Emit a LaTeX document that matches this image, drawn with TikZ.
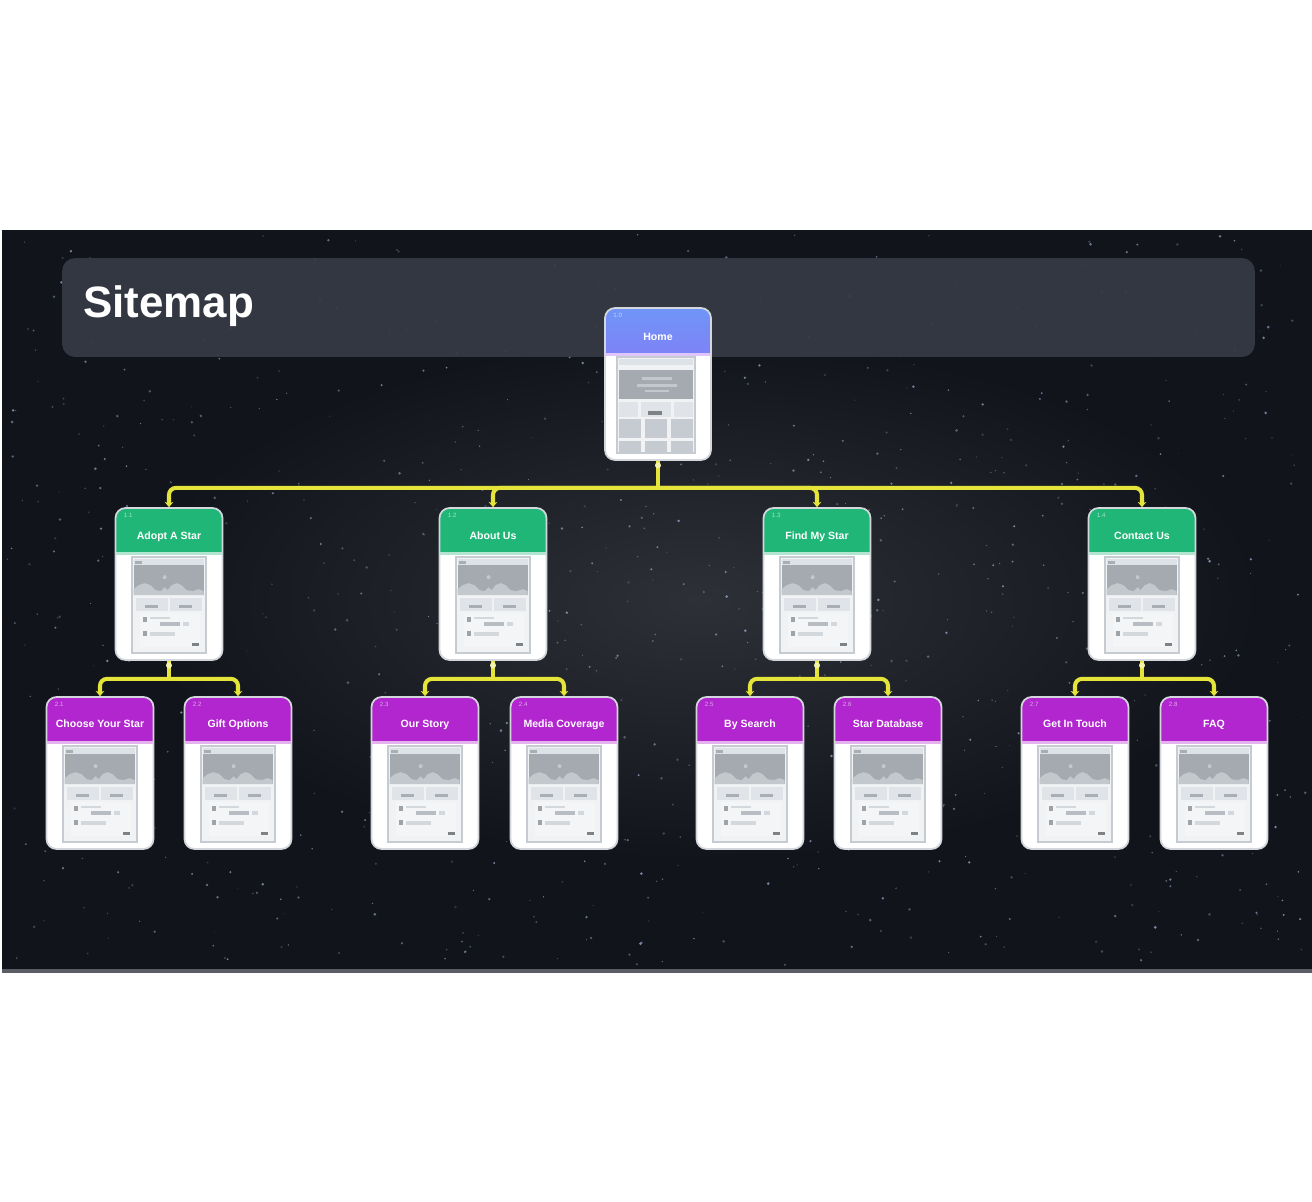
\documentclass[tikz,border=0pt]{standalone}
\usepackage{fontspec}
\setmainfont{Liberation Sans}
\usetikzlibrary{arrows.meta}
\definecolor{spacebg}{HTML}{11141B}
\definecolor{stardot}{HTML}{9AA6C8}
\definecolor{panelline}{HTML}{5A5D63}
\definecolor{barbg}{HTML}{363A45}
\definecolor{greenhd}{HTML}{20B678}
\definecolor{purplehd}{HTML}{B126CF}
\definecolor{hometop}{HTML}{6F95F8}
\definecolor{homemid}{HTML}{8A78F4}
\definecolor{homebot}{HTML}{A158F0}
\definecolor{linkyellow}{HTML}{E4E43A}
\definecolor{knobyellow}{HTML}{F4F3AA}
\definecolor{cardedge}{HTML}{D3D7DC}
\definecolor{thumbbg}{HTML}{F0F2F4}
\definecolor{thumbedge}{HTML}{C5CBD1}
\definecolor{strip}{HTML}{DDE2E6}
\definecolor{imgc}{HTML}{A4AAAF}
\definecolor{mount}{HTML}{C3C8CC}
\definecolor{btn}{HTML}{E0E4E8}
\definecolor{btnbar}{HTML}{A8AEB4}
\definecolor{listbg}{HTML}{F3F5F7}
\definecolor{icon}{HTML}{9CA3A9}
\definecolor{rowbar}{HTML}{D3D8DD}
\definecolor{rowbar2}{HTML}{B7BDC3}
\tikzset{
  card/.style={draw=cardedge, line width=1pt, fill=white, rounded corners=0.2cm,
    minimum width=2.14cm, minimum height=3.04cm, inner sep=0pt,
    path picture={
      \fill[#1, sharp corners] (path picture bounding box.north west) rectangle ([yshift=-0.88cm]path picture bounding box.north east);
      \fill[#1!35!white, sharp corners] ([yshift=-0.88cm]path picture bounding box.north west) rectangle ([yshift=-0.93cm]path picture bounding box.north east);}},
  homecard/.style={draw=cardedge, line width=1pt, fill=white, rounded corners=0.2cm,
    minimum width=2.12cm, minimum height=3.04cm, inner sep=0pt,
    path picture={
      \shade[top color=hometop, middle color=homemid, bottom color=homebot, sharp corners] (path picture bounding box.north west) rectangle ([yshift=-0.9cm]path picture bounding box.north east);
      \fill[homebot!35!white, sharp corners] ([yshift=-0.9cm]path picture bounding box.north west) rectangle ([yshift=-0.95cm]path picture bounding box.north east);}},
  cardlabel/.style={text=white, font=\fontsize{6}{7}\selectfont\bfseries, inner sep=0pt, anchor=base},
  cardnum/.style={text=white, opacity=0.6, font=\fontsize{3.5}{4}\selectfont, inner sep=0pt, anchor=west},
  titlebar/.style={fill=barbg, fill opacity=0.93, rounded corners=0.26cm, minimum width=23.86cm, minimum height=1.98cm},
  titletext/.style={text=white, font=\fontsize{25}{30}\selectfont\bfseries, inner sep=0pt, anchor=base west},
  link/.style={draw=linkyellow, line width=2.3pt, rounded corners=0.14cm},
  linkto/.style={link, -{Stealth[length=3pt,width=5pt]}},
  knob/.style={fill=knobyellow}
}
\newcommand\pagethumb[1]{%
  \begin{scope}[shift={(#1.north west)}]
    \filldraw[fill=thumbbg, draw=thumbedge, line width=1.2pt] (17,50) rectangle (91,146);
    \fill[strip] (19,52) rectangle (89,58);
    \fill[btnbar] (20,53.5) rectangle (27,56.5);
    \fill[imgc] (19,58) rectangle (89,88);
    \fill[mount] (19,88) -- (19,82) -- (24,78) -- (30,76) -- (36,78) -- (41,83) -- (46,84) -- (50,80)
      -- (53,83) -- (57,78) -- (62,76) -- (67,78) -- (72,83) -- (78,84) -- (84,82) -- (89,84) -- (89,88) -- cycle;
    \fill[mount] (50,70) circle[radius=2];
    \fill[btn] (21,91) rectangle (53,104);
    \fill[btn] (55,91) rectangle (87,104);
    \fill[btnbar] (30,98) rectangle (43,101);
    \fill[btnbar] (64,98) rectangle (77,101);
    \fill[listbg] (25,106) rectangle (85,140);
    \fill[icon] (28,110) rectangle (32,115);
    \fill[rowbar] (35,110) rectangle (55,112);
    \fill[rowbar2] (45,115) rectangle (65,119);
    \fill[rowbar] (68,115) rectangle (74,119);
    \fill[icon] (28,124) rectangle (32,129);
    \fill[rowbar] (35,125) rectangle (60,129);
    \fill[icon!80!black] (77,136) rectangle (84,139);
  \end{scope}}
\newcommand\homethumb[1]{%
  \begin{scope}[shift={(#1.north west)}]
    \filldraw[fill=thumbbg, draw=thumbedge, line width=1.2pt] (13,50) rectangle (91,146);
    \fill[strip] (15,52) rectangle (89,58);
    \fill[imgc] (15,63) rectangle (89,92);
    \fill[mount] (38,70) rectangle (68,73);
    \fill[mount] (33,77) rectangle (73,80);
    \fill[mount] (41,83) rectangle (65,85);
    \fill[btn] (15,95) rectangle (34,110);
    \fill[btn] (37,95) rectangle (67,110);
    \fill[btn] (70,95) rectangle (89,110);
    \fill[icon!80!black] (44,104) rectangle (58,108);
    \foreach \gx in {15,41,67}{
      \fill[thumbedge] (\gx,112) rectangle ++(22,19);
      \fill[thumbedge] (\gx,134) rectangle ++(22,11);
    }
  \end{scope}}
\begin{document}
\begin{tikzpicture}[x=0.02cm, y=-0.02cm]
  \useasboundingbox (0,0) rectangle (1312,1201);
  \fill[spacebg] (2,230) rectangle (1312,971);
  \shade[inner color=spacebg!88!white, outer color=spacebg] (700,600) ellipse [x radius=560, y radius=260];
  \pgfmathsetseed{1312}
  \foreach \s in {1,...,900}{
    \pgfmathsetmacro\sx{4+1304*rnd}
    \pgfmathsetmacro\sy{233+734*rnd}
    \pgfmathsetmacro\sr{0.5+1.0*rnd}
    \pgfmathsetmacro\so{0.2+0.6*rnd}
    \fill[stardot, opacity=\so] (\sx,\sy) circle[radius=\sr];
  }
  \draw[panelline, line width=2pt] (2,971) -- (1312,971);
  \node[titlebar] (bar) at (658.5,307.5) {};
  \node[titletext] (title) at (83,317) {Sitemap};

  \node[homecard] (home) at (658,384) {};
  \node[card=greenhd] (adopt) at (169,584) {};
  \node[card=greenhd] (about) at (493,584) {};
  \node[card=greenhd] (find) at (817,584) {};
  \node[card=greenhd] (contact) at (1142,584) {};
  \node[card=purplehd] (choose) at (100,773) {};
  \node[card=purplehd] (gift) at (238,773) {};
  \node[card=purplehd] (story) at (425,773) {};
  \node[card=purplehd] (media) at (564,773) {};
  \node[card=purplehd] (search) at (750,773) {};
  \node[card=purplehd] (stardb) at (888,773) {};
  \node[card=purplehd] (touch) at (1075,773) {};
  \node[card=purplehd] (faq) at (1214,773) {};

  \homethumb{home}
  \foreach \c in {adopt,about,find,contact,choose,gift,story,media,search,stardb,touch,faq}
    {\pagethumb{\c}}

  \node[cardlabel] (home-t) at ([yshift=-0.66cm]home.north) {Home};
  \node[cardlabel] (adopt-t) at ([yshift=-0.64cm]adopt.north) {Adopt A Star};
  \node[cardlabel] (about-t) at ([yshift=-0.64cm]about.north) {About Us};
  \node[cardlabel] (find-t) at ([yshift=-0.64cm]find.north) {Find My Star};
  \node[cardlabel] (contact-t) at ([yshift=-0.64cm]contact.north) {Contact Us};
  \node[cardlabel] (choose-t) at ([yshift=-0.62cm]choose.north) {Choose Your Star};
  \node[cardlabel] (gift-t) at ([yshift=-0.62cm]gift.north) {Gift Options};
  \node[cardlabel] (story-t) at ([yshift=-0.62cm]story.north) {Our Story};
  \node[cardlabel] (media-t) at ([yshift=-0.62cm]media.north) {Media Coverage};
  \node[cardlabel] (search-t) at ([yshift=-0.62cm]search.north) {By Search};
  \node[cardlabel] (stardb-t) at ([yshift=-0.62cm]stardb.north) {Star Database};
  \node[cardlabel] (touch-t) at ([yshift=-0.62cm]touch.north) {Get In Touch};
  \node[cardlabel] (faq-t) at ([yshift=-0.62cm]faq.north) {FAQ};

  \node[cardnum] (home-n) at ([xshift=0.18cm,yshift=-0.16cm]home.north west) {1.0};
  \node[cardnum] (adopt-n) at ([xshift=0.18cm,yshift=-0.16cm]adopt.north west) {1.1};
  \node[cardnum] (about-n) at ([xshift=0.18cm,yshift=-0.16cm]about.north west) {1.2};
  \node[cardnum] (find-n) at ([xshift=0.18cm,yshift=-0.16cm]find.north west) {1.3};
  \node[cardnum] (contact-n) at ([xshift=0.18cm,yshift=-0.16cm]contact.north west) {1.4};
  \node[cardnum] (choose-n) at ([xshift=0.18cm,yshift=-0.16cm]choose.north west) {2.1};
  \node[cardnum] (gift-n) at ([xshift=0.18cm,yshift=-0.16cm]gift.north west) {2.2};
  \node[cardnum] (story-n) at ([xshift=0.18cm,yshift=-0.16cm]story.north west) {2.3};
  \node[cardnum] (media-n) at ([xshift=0.18cm,yshift=-0.16cm]media.north west) {2.4};
  \node[cardnum] (search-n) at ([xshift=0.18cm,yshift=-0.16cm]search.north west) {2.5};
  \node[cardnum] (stardb-n) at ([xshift=0.18cm,yshift=-0.16cm]stardb.north west) {2.6};
  \node[cardnum] (touch-n) at ([xshift=0.18cm,yshift=-0.16cm]touch.north west) {2.7};
  \node[cardnum] (faq-n) at ([xshift=0.18cm,yshift=-0.16cm]faq.north west) {2.8};

  \coordinate (home-hub) at ([yshift=-0.54cm]home.south);
  \coordinate (adopt-hub) at ([yshift=-0.36cm]adopt.south);
  \coordinate (about-hub) at ([yshift=-0.36cm]about.south);
  \coordinate (find-hub) at ([yshift=-0.36cm]find.south);
  \coordinate (contact-hub) at ([yshift=-0.36cm]contact.south);
  \foreach \p in {home,adopt,about,find,contact}
    {\draw[link] (\p.south) -- (\p-hub);}
  \begin{scope}[linkto]
    \draw (home-hub) -| (adopt.north);
    \draw (home-hub) -| (about.north);
    \draw (home-hub) -| (find.north);
    \draw (home-hub) -| (contact.north);
    \draw (adopt-hub) -| (choose.north);
    \draw (adopt-hub) -| (gift.north);
    \draw (about-hub) -| (story.north);
    \draw (about-hub) -| (media.north);
    \draw (find-hub) -| (search.north);
    \draw (find-hub) -| (stardb.north);
    \draw (contact-hub) -| (touch.north);
    \draw (contact-hub) -| (faq.north);
  \end{scope}
  \foreach \p in {home,adopt,about,find,contact}
    {\fill[knob] ([yshift=-0.09cm]\p.south) circle[radius=3];}
\end{tikzpicture}
\end{document}
